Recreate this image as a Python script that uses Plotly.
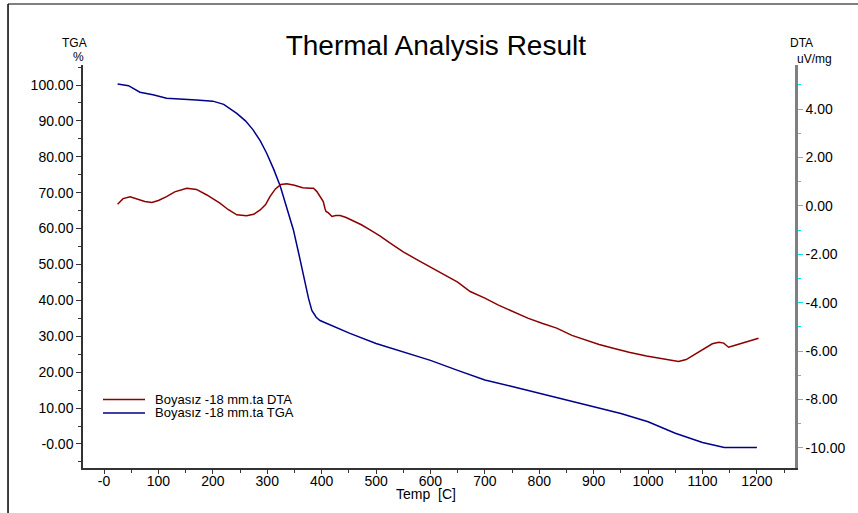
import plotly.graph_objects as go

# ---------------- data ----------------
tga_temp = [25, 45, 66, 90, 115, 140, 170, 200, 220, 244, 260, 274, 287, 299, 312, 324, 336, 348,
            358, 368, 376, 382, 390, 397, 410, 430, 452, 500, 550, 600, 650, 700, 750, 800, 850,
            900, 950, 1000, 1050, 1100, 1120, 1140, 1170, 1200]
tga_vals = [100.3, 99.8, 98.0, 97.3, 96.3, 96.0, 95.8, 95.5, 94.6, 92.1, 90.0, 87.5, 84.5, 81.0,
            76.5, 71.8, 66.0, 59.7, 53.0, 46.0, 40.5, 37.2, 35.3, 34.4, 33.5, 32.2, 30.8, 28.0,
            25.6, 23.3, 20.5, 17.8, 16.0, 14.1, 12.3, 10.4, 8.5, 6.2, 3.0, 0.4, -0.4, -1.0, -1.0, -1.0]

dta_temp = [25, 35, 48, 60, 75, 88, 100, 115, 130, 152, 170, 189, 200, 213, 228, 244, 262, 275,
            287, 297, 305, 315, 325, 336, 350, 365, 379, 385, 391, 397, 403, 406, 408, 412, 419,
            426, 434, 445, 458, 473, 489, 507, 526, 550, 575, 599, 625, 650, 673, 700, 725, 752,
            780, 805, 832, 860, 887, 910, 936, 965, 997, 1025, 1045, 1056, 1070, 1084, 1100, 1118,
            1130, 1139, 1143, 1148, 1160, 1180, 1203]
dta_vals = [0.07, 0.30, 0.38, 0.30, 0.18, 0.14, 0.22, 0.38, 0.58, 0.73, 0.68, 0.45, 0.30, 0.11,
            -0.15, -0.37, -0.41, -0.35, -0.17, 0.05, 0.38, 0.70, 0.88, 0.91, 0.85, 0.75, 0.73,
            0.73, 0.60, 0.41, 0.18, -0.10, -0.23, -0.28, -0.44, -0.40, -0.40, -0.48, -0.61,
            -0.78, -0.99, -1.24, -1.54, -1.90, -2.22, -2.51, -2.82, -3.15, -3.54, -3.81, -4.10,
            -4.37, -4.65, -4.85, -5.05, -5.35, -5.57, -5.73, -5.88, -6.05, -6.20, -6.32, -6.40,
            -6.43, -6.35, -6.16, -5.95, -5.70, -5.64, -5.67, -5.75, -5.84, -5.76, -5.62, -5.47]

x_tickvals = [0, 100, 200, 300, 400, 500, 600, 700, 800, 900, 1000, 1100, 1200]
x_ticktext = ["-0", "100", "200", "300", "400", "500", "600", "700", "800", "900", "1000", "1100", "1200"]
x_minor = [50, 150, 250, 350, 450, 550, 650, 750, 850, 950, 1050, 1150, 1250]

tga_tickvals = [0, 10, 20, 30, 40, 50, 60, 70, 80, 90, 100]
tga_ticktext = ["-0.00", "10.00", "20.00", "30.00", "40.00", "50.00", "60.00", "70.00", "80.00", "90.00", "100.00"]
tga_minor = [-5, 5, 15, 25, 35, 45, 55, 65, 75, 85, 95, 105]

dta_tickvals = [-10, -8, -6, -4, -2, 0, 2, 4]
dta_ticktext = ["-10.00", "-8.00", "-6.00", "-4.00", "-2.00", "0.00", "2.00", "4.00"]
dta_minor = [-9, -7, -5, -3, -1, 1, 3, 5]

title_text = "Thermal Analysis Result"
x_title = "Temp\u00a0\u00a0[C]"
dta_name = "Boyasız -18 mm.ta DTA"
tga_name = "Boyasız -18 mm.ta TGA"

DTA_COLOR = "#8B0000"
TGA_COLOR = "#00008B"
FONT = "Liberation Sans, Arial, sans-serif"

fig = go.Figure()
fig.add_trace(go.Scatter(x=dta_temp, y=dta_vals, yaxis="y2", mode="lines", name=dta_name,
                         line=dict(color=DTA_COLOR, width=1.5), showlegend=False))
fig.add_trace(go.Scatter(x=tga_temp, y=tga_vals, yaxis="y", mode="lines", name=tga_name,
                         line=dict(color=TGA_COLOR, width=1.5), showlegend=False))

fig.update_layout(
    width=858, height=513,
    margin=dict(l=83, r=63, t=65, b=45),
    paper_bgcolor="white", plot_bgcolor="white",
    font=dict(family=FONT, size=14, color="black"),
    title=dict(text=title_text, x=0.508, xanchor="center", y=0.912, yanchor="middle",
               font=dict(size=28, color="black", family=FONT)),
    xaxis=dict(range=[-38.6, 1270], tickmode="array", tickvals=x_tickvals, ticktext=x_ticktext,
               showline=True, linecolor="#333333", linewidth=1.5, ticks="outside", ticklen=4,
               tickcolor="#333333", showgrid=False, zeroline=False, ticklabelstandoff=-5,
               minor=dict(tickvals=x_minor, ticks="outside", ticklen=3, tickcolor="#333333"),
               tickfont=dict(size=14)),
    yaxis=dict(range=[-6.69, 105.57], tickmode="array", tickvals=tga_tickvals, ticktext=tga_ticktext,
               showline=True, linecolor="#333333", linewidth=1.5, ticks="outside", ticklen=5,
               tickcolor="#333333", showgrid=False, zeroline=False,
               minor=dict(tickvals=tga_minor, ticks="outside", ticklen=3, tickcolor="#333333"),
               tickfont=dict(size=14)),
    yaxis2=dict(range=[-10.83, 5.82], overlaying="y", side="right", tickmode="array",
                tickvals=dta_tickvals, ticktext=dta_ticktext,
                showline=True, linecolor="#808080", linewidth=2.5, ticks="outside", ticklen=5,
                tickcolor="#00E5EE", showgrid=False, zeroline=False,
                minor=dict(tickvals=dta_minor, ticks="outside", ticklen=3, tickcolor="#00E5EE"),
                tickfont=dict(size=14)),
)

# axis unit labels, x-axis title and legend texts
ann = [
    dict(text="TGA", x=-0.0126, y=1.054, size=12, xanchor="center"),
    dict(text="%", x=-0.007, y=1.019, size=12, xanchor="center"),
    dict(text="DTA", x=1.0098, y=1.055, size=12, xanchor="center"),
    dict(text="uV/mg", x=1.028, y=1.016, size=12, xanchor="center"),
    dict(text=x_title, x=0.482, y=-0.064, size=14, xanchor="center"),
    dict(text=dta_name, x=0.0983, y=0.170, size=13, xanchor="left"),
    dict(text=tga_name, x=0.0983, y=0.1365, size=13, xanchor="left"),
]
for a in ann:
    fig.add_annotation(xref="paper", yref="paper", yanchor="middle", showarrow=False,
                       font=dict(family=FONT, color="black", size=a["size"]),
                       text=a["text"], x=a["x"], y=a["y"], xanchor=a["xanchor"])

# legend sample lines and outer frame
fig.add_shape(type="line", xref="paper", yref="paper", x0=0.0281, x1=0.0871, y0=0.170, y1=0.170,
              line=dict(color=DTA_COLOR, width=1.5))
fig.add_shape(type="line", xref="paper", yref="paper", x0=0.0281, x1=0.0871, y0=0.1365, y1=0.1365,
              line=dict(color=TGA_COLOR, width=1.5))
fig.add_shape(type="line", xref="paper", yref="paper", x0=-0.1053, x1=1.09, y0=1.1514, y1=1.1514,
              line=dict(color="#808080", width=2))
fig.add_shape(type="line", xref="paper", yref="paper", x0=-0.1053, x1=-0.1053, y0=1.1514, y1=-0.12,
              line=dict(color="black", width=1.5))

fig.write_html("out.html", config={"displayModeBar": False},
               post_script="document.body.style.margin='0px';")
